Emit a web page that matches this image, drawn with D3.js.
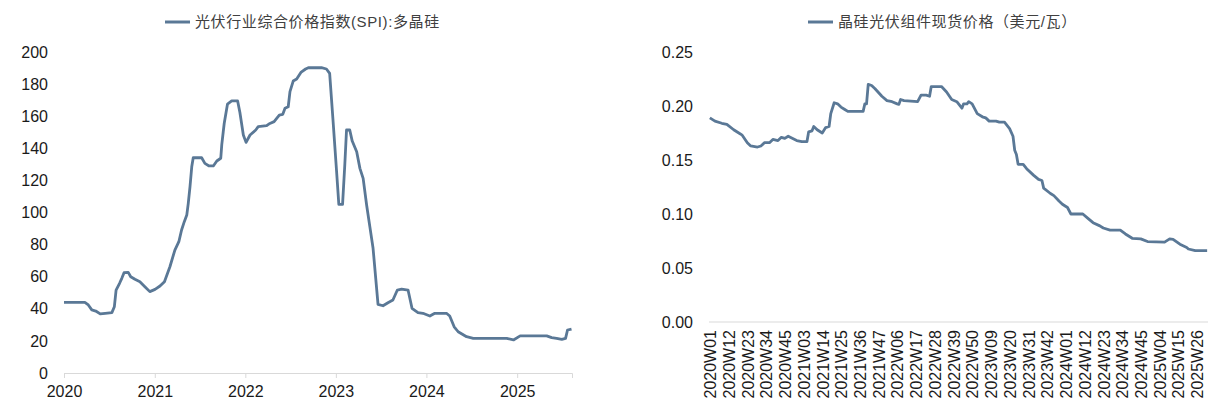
<!DOCTYPE html>
<html>
<head>
<meta charset="utf-8">
<script src="https://cdn.jsdelivr.net/npm/d3@7"></script>
<style>
  body { margin: 0; background: #fff; }
  svg { display: block; font-family: "Liberation Sans", Arial, "Noto Sans CJK SC", sans-serif; }
</style>
</head>
<body>
<svg id="chart" width="1227" height="402"></svg>
<script>
// left: SPI polysilicon index
const spiTitle = "光伏行业综合价格指数(SPI):多晶硅";
const spiDates = ["2020-01-01","2020-03-25","2020-04-08","2020-04-22","2020-05-08","2020-05-26","2020-06-15","2020-07-12","2020-07-22","2020-07-29","2020-08-12","2020-08-21","2020-08-30","2020-09-16","2020-09-26","2020-10-13","2020-11-02","2020-11-22","2020-12-12","2021-01-02","2021-01-22","2021-02-09","2021-03-03","2021-03-23","2021-04-08","2021-04-19","2021-04-30","2021-05-10","2021-05-16","2021-05-23","2021-05-30","2021-06-05","2021-07-09","2021-07-22","2021-08-08","2021-08-25","2021-09-08","2021-09-24","2021-09-28","2021-10-04","2021-10-08","2021-10-21","2021-11-07","2021-12-01","2021-12-10","2021-12-24","2022-01-04","2022-01-20","2022-02-12","2022-02-22","2022-03-28","2022-04-10","2022-04-27","2022-05-18","2022-06-01","2022-06-10","2022-06-23","2022-06-30","2022-07-13","2022-07-27","2022-08-13","2022-09-01","2022-09-12","2022-11-04","2022-11-24","2022-12-07","2022-12-20","2023-01-04","2023-01-13","2023-01-28","2023-02-06","2023-02-13","2023-02-26","2023-03-08","2023-03-26","2023-04-08","2023-04-21","2023-05-05","2023-05-18","2023-05-31","2023-06-20","2023-07-10","2023-07-30","2023-08-19","2023-09-06","2023-09-23","2023-10-19","2023-11-04","2023-11-28","2023-12-18","2024-01-15","2024-02-04","2024-03-22","2024-04-04","2024-04-22","2024-05-08","2024-06-11","2024-07-08","2024-11-20","2024-12-17","2025-01-13","2025-04-30","2025-05-20","2025-06-09","2025-06-30","2025-07-15","2025-07-23","2025-08-08"];
const spiValues = [44.0,44.0,42.4,39.3,38.6,36.8,37.2,37.6,41.3,51.7,55.9,59.0,62.5,62.7,60.0,58.4,56.9,53.8,50.7,52.1,54.2,56.9,66.2,76.6,81.8,89.1,94.3,98.4,105.7,116.1,128.5,134.1,134.1,130.6,129.0,129.0,132.1,133.8,142.1,150.3,155.6,167.5,169.5,169.5,162.5,148.3,143.7,148.3,151.4,153.5,154.1,155.5,156.6,160.7,161.2,164.9,165.9,175.3,181.9,183.2,187.3,189.4,190.2,190.2,189.4,186.7,158.7,125.4,105.1,105.1,129.6,151.4,151.4,144.5,137.9,127.5,121.3,104.7,91.2,77.7,42.8,41.9,43.8,45.5,51.7,52.3,51.7,40.3,37.6,37.2,35.5,37.2,37.2,35.5,28.8,25.7,22.6,21.6,21.6,20.6,23.1,23.1,22.0,21.6,21.0,21.6,26.8,27.4];
const spiYTicks = [0,20,40,60,80,100,120,140,160,180,200];

// right: module spot price, weekly categories
const modTitle = "晶硅光伏组件现货价格（美元/瓦）";
const weeksPerYear = [[2020,53],[2021,52],[2022,52],[2023,52],[2024,52],[2025,32]];
const weekLabels = ["2020W01","2020W12","2020W23","2020W34","2020W45","2021W03","2021W14","2021W25","2021W36","2021W47","2022W06","2022W17","2022W28","2022W39","2022W50","2023W09","2023W20","2023W31","2023W42","2024W01","2024W12","2024W23","2024W34","2024W45","2025W04","2025W15","2025W26"];
const modWeeks = ["2020W01","2020W04","2020W08","2020W11","2020W15","2020W18","2020W20","2020W23","2020W25","2020W29","2020W31","2020W33","2020W36","2020W38","2020W41","2020W43","2020W45","2020W47","2020W52","2021W02","2021W05","2021W06","2021W08","2021W09","2021W11","2021W14","2021W16","2021W18","2021W19","2021W21","2021W23","2021W25","2021W27","2021W29","2021W38","2021W39","2021W40","2021W41","2021W43","2021W45","2021W49","2021W52","2022W03","2022W06","2022W07","2022W08","2022W10","2022W18","2022W20","2022W23","2022W25","2022W26","2022W32","2022W35","2022W38","2022W41","2022W44","2022W45","2022W47","2022W48","2022W50","2023W01","2023W04","2023W06","2023W08","2023W12","2023W14","2023W17","2023W20","2023W22","2023W23","2023W24","2023W25","2023W28","2023W30","2023W34","2023W37","2023W39","2023W40","2023W44","2023W46","2023W49","2023W51","2024W02","2024W04","2024W11","2024W14","2024W17","2024W21","2024W23","2024W27","2024W33","2024W36","2024W40","2024W45","2024W49","2025W07","2025W10","2025W12","2025W16","2025W20","2025W21","2025W25","2025W32"];
const modPrices = [0.189,0.186,0.184,0.183,0.178,0.175,0.173,0.166,0.163,0.162,0.163,0.166,0.166,0.169,0.168,0.171,0.170,0.172,0.168,0.167,0.167,0.176,0.177,0.181,0.178,0.175,0.180,0.181,0.193,0.203,0.202,0.199,0.197,0.195,0.195,0.202,0.202,0.220,0.219,0.216,0.209,0.205,0.204,0.202,0.2015,0.206,0.205,0.204,0.210,0.210,0.209,0.218,0.218,0.213,0.206,0.204,0.198,0.202,0.202,0.204,0.202,0.193,0.190,0.189,0.186,0.186,0.185,0.185,0.179,0.172,0.159,0.155,0.146,0.146,0.142,0.136,0.132,0.131,0.124,0.119,0.117,0.112,0.109,0.106,0.100,0.100,0.096,0.092,0.089,0.087,0.085,0.085,0.0815,0.0775,0.077,0.0745,0.074,0.077,0.0766,0.072,0.069,0.0676,0.066,0.066];
const modYTicks = [0,0.05,0.10,0.15,0.20,0.25];

const lineColor = "#5a7896";
const axisColor = "#d9d9d9";
const textColor = "#1a1a1a";

const svg = d3.select("#chart");
const parse = d3.timeParse("%Y-%m-%d");

function legend(x, y, label) {
  const g = svg.append("g").attr("transform", `translate(${x},${y})`);
  g.append("line").attr("x1", 0).attr("x2", 25).attr("stroke", lineColor).attr("stroke-width", 3);
  g.append("text").attr("x", 30).attr("dy", "0.35em")
    .attr("fill", "#404040").style("font-size", "15px").style("letter-spacing", "0.6px")
    .text(label);
}

function styleAxis(g) {
  g.select(".domain").attr("stroke", axisColor);
  g.selectAll(".tick line").attr("stroke", axisColor);
  g.selectAll("text").attr("fill", textColor).style("font-size", "16px");
}

// ---- left chart ----
const xL = d3.scaleTime().domain([parse("2020-01-01"), parse("2025-08-10")]).range([64, 572]);
const yL = d3.scaleLinear().domain([0, 200]).range([373, 52]);

svg.append("g").attr("transform", "translate(64,0)")
  .call(d3.axisLeft(yL).tickValues(spiYTicks).tickSize(0).tickPadding(16))
  .call(g => g.select(".domain").remove())
  .call(styleAxis);

svg.append("g").attr("transform", "translate(0,373)")
  .call(d3.axisBottom(xL).ticks(d3.timeYear.every(1)).tickFormat(d3.timeFormat("%Y")).tickSizeOuter(0).tickSize(5).tickPadding(8))
  .call(styleAxis);

const spi = spiDates.map((d, i) => ({ date: parse(d), value: spiValues[i] }));
svg.append("path").datum(spi)
  .attr("fill", "none").attr("stroke", lineColor).attr("stroke-width", 2.8)
  .attr("stroke-linejoin", "round")
  .attr("d", d3.line().x(d => xL(d.date)).y(d => yL(d.value)));

legend(165, 22, spiTitle);

// ---- right chart ----
const allWeeks = [];
weeksPerYear.forEach(([yr, n]) => {
  for (let w = 1; w <= n; w++) allWeeks.push(`${yr}W${String(w).padStart(2, "0")}`);
});

const xR = d3.scalePoint().domain(allWeeks).range([709, 1208]).padding(0.5);
const yR = d3.scaleLinear().domain([0, 0.25]).range([322, 52]);

svg.append("g").attr("transform", "translate(709,0)")
  .call(d3.axisLeft(yR).tickValues(modYTicks).tickFormat(d3.format(".2f")).tickSize(0).tickPadding(16))
  .call(g => g.select(".domain").remove())
  .call(styleAxis);

svg.append("g").attr("transform", "translate(0,322)")
  .call(d3.axisBottom(xR).tickValues(weekLabels).tickSize(0).tickSizeOuter(0))
  .call(g => g.select(".domain").attr("d", "M709,0H1208"))
  .call(styleAxis)
  .call(g => g.selectAll(".tick text")
    .attr("transform", "rotate(-90)")
    .attr("text-anchor", "end")
    .attr("x", -8).attr("y", 0).attr("dy", "0.36em"));

const mod = modWeeks.map((w, i) => ({ week: w, value: modPrices[i] }));
svg.append("path").datum(mod)
  .attr("fill", "none").attr("stroke", lineColor).attr("stroke-width", 2.8)
  .attr("stroke-linejoin", "round")
  .attr("d", d3.line().x(d => xR(d.week)).y(d => yR(d.value)));

legend(808, 22, modTitle);
</script>
</body>
</html>
